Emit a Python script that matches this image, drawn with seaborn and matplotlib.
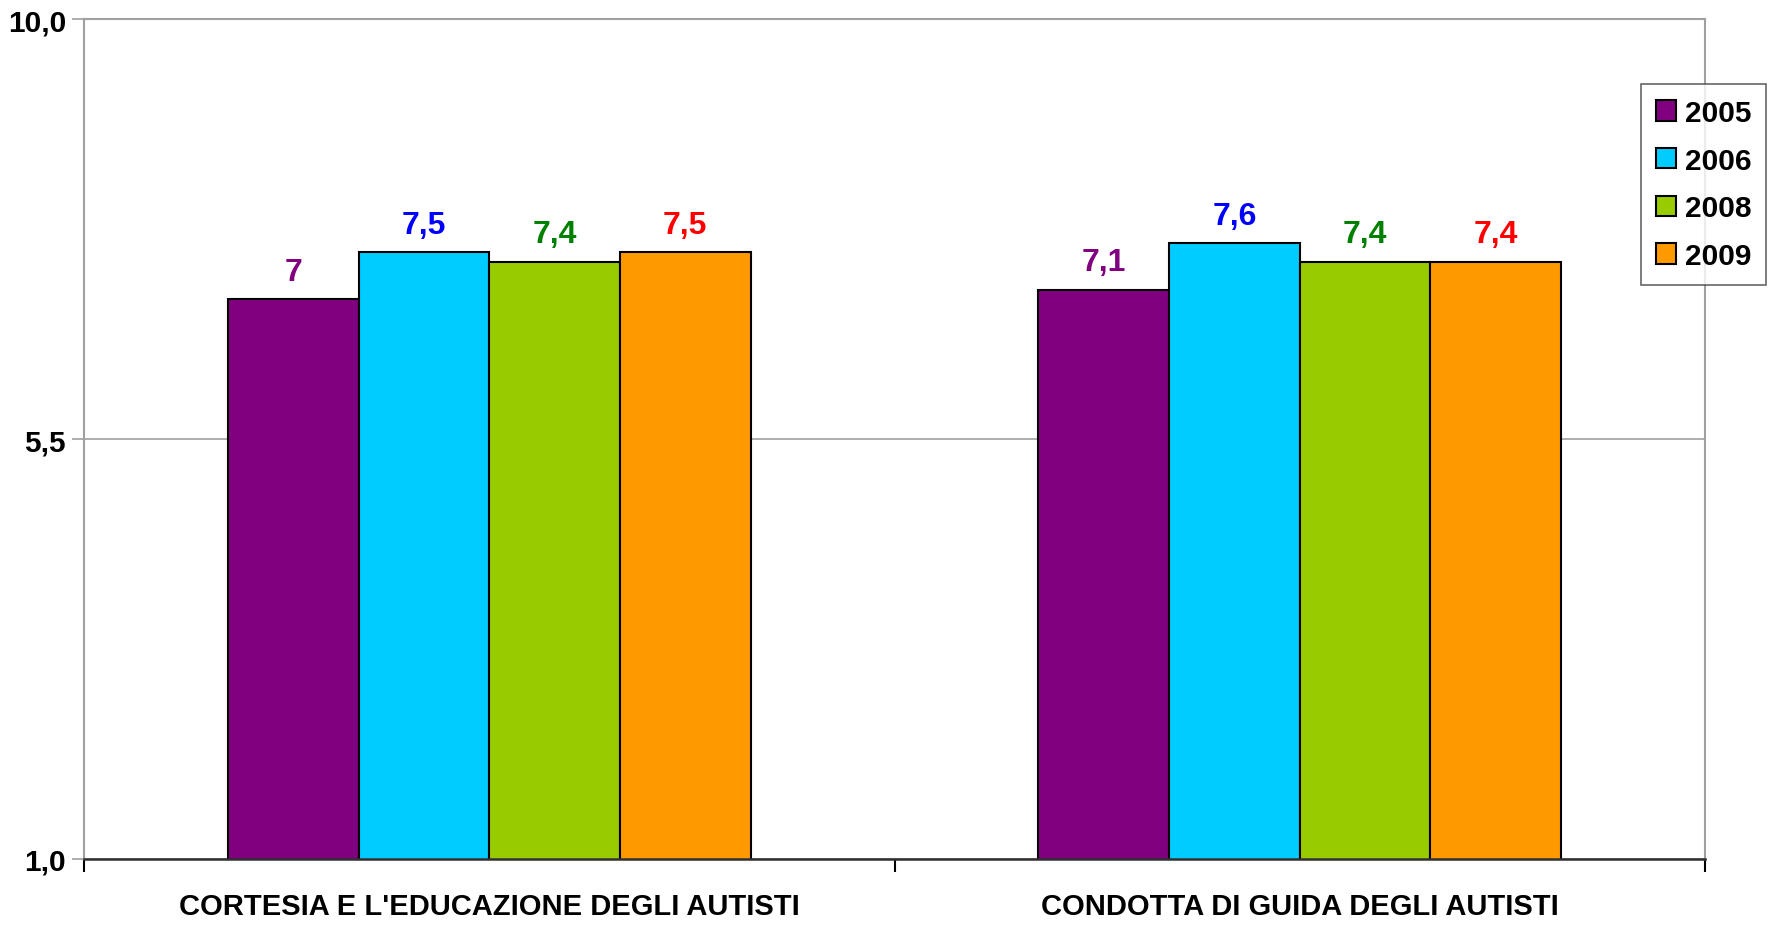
import matplotlib
matplotlib.use("Agg")
import matplotlib.pyplot as plt
import seaborn as sns
import pandas as pd
from matplotlib.ticker import FixedLocator

categories = ["CORTESIA E L'EDUCAZIONE DEGLI AUTISTI", "CONDOTTA DI GUIDA DEGLI AUTISTI"]
years = ["2005", "2006", "2008", "2009"]
values_2005 = [7.0, 7.1]
values_2006 = [7.5, 7.6]
values_2008 = [7.4, 7.4]
values_2009 = [7.5, 7.4]
bar_colors = ["#800080", "#00CCFF", "#99CC00", "#FF9900"]
label_colors = ["#800080", "#0000FF", "#008000", "#FF0000"]
y_ticks = [1.0, 5.5, 10.0]
y_tick_labels = ["1,0", "5,5", "10,0"]

series = [values_2005, values_2006, values_2008, values_2009]
rows = []
for y, vals in zip(years, series):
    for c, v in zip(categories, vals):
        rows.append({"cat": c, "year": y, "val": v})
df = pd.DataFrame(rows)

sns.set_theme(style="white")
plt.rcParams['font.family'] = ['Liberation Sans', 'DejaVu Sans']
plt.rcParams['font.weight'] = 'bold'
plt.rcParams['text.color'] = 'black'
plt.rcParams['xtick.color'] = 'black'
plt.rcParams['ytick.color'] = 'black'
plt.rcParams['xtick.labelcolor'] = 'black'
plt.rcParams['ytick.labelcolor'] = 'black'

fig = plt.figure(figsize=(17.76, 9.29), dpi=100)
ax = fig.add_axes([84 / 1776, 1 - 860 / 929, (1705 - 84) / 1776, (860 - 20) / 929])

sns.barplot(data=df, x="cat", y="val", hue="year", order=categories, hue_order=years,
            palette=bar_colors, width=0.645, edgecolor="black", linewidth=1.5,
            saturation=1, ax=ax, legend=True)

ax.set_ylim(1, 10)
ax.set_xlim(-0.5, 1.5)
ax.set_yticks(y_ticks)
ax.set_yticklabels(y_tick_labels, fontsize=21.5, fontweight='bold', color='black')
ax.set_xlabel("")
ax.set_ylabel("")

# gridlines
ax.yaxis.grid(True, color="#a0a0a0", linewidth=1.2)
ax.xaxis.grid(False)
ax.set_axisbelow(True)

# spines
for s in ["left", "top", "right"]:
    ax.spines[s].set_color("#a0a0a0")
    ax.spines[s].set_linewidth(1.5)
ax.spines["bottom"].set_color("#303030")
ax.spines["bottom"].set_linewidth(1.8)

# ticks
ax.tick_params(axis="y", which="major", left=True, length=9, width=1.2, color="#a0a0a0",
               labelcolor="black", pad=4)
ax.tick_params(axis="x", which="major", length=0, pad=24, labelsize=21, labelcolor="black")
for lbl in ax.get_xticklabels():
    lbl.set_fontweight('bold')
    lbl.set_color('black')
ax.xaxis.set_minor_locator(FixedLocator([-0.5, 0.5, 1.5]))
ax.tick_params(axis="x", which="minor", bottom=True, length=9, width=1.5, color="black")

# data labels
for cont, col in zip(ax.containers, label_colors):
    for bar in cont:
        h = bar.get_height()
        txt = ("%g" % h).replace(".", ",")
        ax.annotate(txt, (bar.get_x() + bar.get_width() / 2, h), xytext=(0, 14),
                    textcoords="offset points", ha="center", va="baseline",
                    fontsize=23, fontweight="bold", color=col)

# legend
handles, labels = ax.get_legend_handles_labels()
ax.get_legend().remove()
leg = fig.legend(handles, labels, loc="upper left", bbox_to_anchor=(1641 / 1776, 1 - 85 / 929),
                 bbox_transform=fig.transFigure, frameon=True, fancybox=False,
                 handlelength=0.67, handleheight=0.67, handletextpad=0.3, labelspacing=0.66,
                 borderpad=0.5, borderaxespad=0, prop={'weight': 'bold', 'size': 21.5},
                 labelcolor='black')
leg.get_frame().set_edgecolor("#404040")
leg.get_frame().set_linewidth(1.2)
for h in leg.legend_handles:
    h.set_edgecolor("black")
    h.set_linewidth(1.5)

fig.savefig("out.png", dpi=100)
